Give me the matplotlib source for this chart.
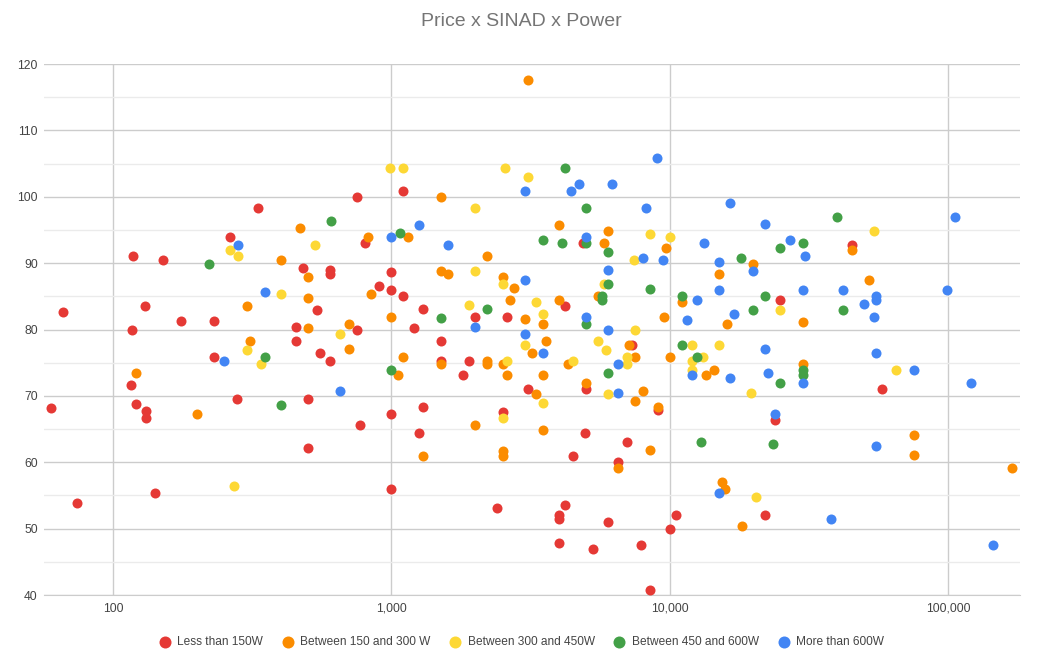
import matplotlib
matplotlib.use("Agg")
import matplotlib.pyplot as plt
from matplotlib.ticker import FixedLocator, FuncFormatter, NullLocator, MultipleLocator

plt.rcParams['font.family'] = ['Liberation Sans', 'DejaVu Sans']

title = "Price x SINAD x Power"
labels = ["Less than 150W", "Between 150 and 300 W", "Between 300 and 450W",
          "Between 450 and 600W", "More than 600W"]
colors = ["#e53935", "#fb8c00", "#fdd835", "#43a047", "#4285f4"]

# price, SINAD
less150_price = [753, 332, 262, 118, 151, 482, 603, 603, 804, 130, 542, 66, 176, 230, 117, 453, 753,
                 453, 230, 553, 603, 116, 121, 131, 131, 60, 279, 502, 774, 502, 141, 74,
                 1101, 4874, 1000, 903, 1000, 1101, 4215, 1302, 2000, 2598, 1202,
                 1503, 1503, 1897, 1807, 3105, 5000, 7321, 9040, 1000, 1302, 2506, 1254, 4959, 6993,
                 4503, 6511, 1000, 2399, 4215, 4000, 4000, 5999, 10537, 10000, 4000, 5309, 7851, 8502,
                 44960, 24880, 57780, 23940, 21970]
less150_sinad = [100.0, 98.3, 93.9, 91.0, 90.4, 89.3, 89.0, 88.3, 93.1, 83.5, 83.0, 82.6, 81.3, 81.3, 80.0, 80.4, 80.0,
                 78.3, 75.8, 76.4, 75.3, 71.6, 68.8, 67.7, 66.7, 68.1, 69.6, 69.6, 65.6, 62.1, 55.3, 53.9,
                 100.9, 93.1, 88.6, 86.5, 86.0, 85.1, 83.6, 83.1, 81.9, 81.9, 80.2,
                 78.3, 75.3, 75.3, 73.1, 71.0, 71.0, 77.6, 67.9, 67.3, 68.3, 67.5, 64.4, 64.4, 63.1,
                 60.9, 60.0, 55.9, 53.1, 53.5, 52.0, 51.5, 51.0, 52.0, 49.9, 47.9, 46.9, 47.5, 40.7,
                 92.7, 84.4, 71.0, 66.3, 52.0]

w150_300_price = [468, 402, 502, 826, 842, 302, 502, 502, 703,
                  311, 703, 121, 201,
                  3105, 1503, 4000, 5999, 1151, 5797, 9650, 2202, 1503, 1600, 2506, 2753, 5505, 11010,
                  2655, 4000, 3006, 3497, 9487, 1000,
                  1101, 1503, 2202, 2202, 2506, 2598, 1054, 3202, 3603, 3497, 4298, 5000, 3309, 7157,
                  7516, 8024, 7516, 9040, 9975, 2000, 3497, 1302, 8502, 2506, 2506, 6511,
                  44960, 19950, 14990, 51920, 16010, 29980, 13460, 14460, 29980, 75090, 75090, 169700,
                  15450, 15800, 18180]
w150_300_sinad = [95.3, 90.4, 87.9, 93.9, 85.4, 83.5, 84.7, 80.3, 80.9,
                  78.3, 77.0, 73.4, 67.3,
                  117.6, 100.0, 95.8, 94.8, 93.9, 93.1, 92.3, 91.0, 88.8, 88.3, 87.9, 86.3, 85.1, 84.1,
                  84.4, 84.4, 81.6, 80.9, 81.9, 81.9,
                  75.8, 74.8, 75.3, 74.8, 74.8, 73.1, 73.1, 76.4, 78.3, 73.1, 74.8, 72.0, 70.3, 77.6,
                  75.8, 70.7, 69.3, 68.4, 75.8, 65.6, 64.8, 60.9, 61.8, 61.7, 60.9, 59.1,
                  92.0, 89.8, 88.3, 87.4, 80.9, 81.1, 73.1, 73.9, 74.8, 64.1, 61.1, 59.1,
                  57.0, 55.9, 50.4]

w300_450_price = [533, 262, 282, 402, 655,
                  302, 341, 271,
                  984, 1101, 2553, 3105, 2000, 8502, 10000, 7412, 2000, 2506, 5797, 3309, 1904, 3497, 7516,
                  2598, 3006, 4503, 3497, 5505, 5915, 7013, 7013, 5999, 2506, 12025,
                  53950, 24880, 14990, 13170, 11990, 11990, 19530, 64900, 20300]
w300_450_sinad = [92.7, 92.0, 91.0, 85.4, 79.3,
                  76.9, 74.8, 56.4,
                  104.4, 104.4, 104.4, 103.0, 98.3, 94.4, 93.9, 90.4, 88.8, 86.9, 86.9, 84.1, 83.7, 82.4, 80.0,
                  75.3, 77.6, 75.3, 69.0, 78.3, 76.9, 75.8, 74.8, 70.3, 66.7, 77.6,
                  94.8, 83.0, 77.6, 75.8, 75.2, 73.9, 70.4, 73.9, 54.8]

w450_600_price = [605, 221, 352, 402,
                  4205, 5000, 1077, 3497, 4100, 5000, 5999, 5999, 8502, 11010, 5702, 5702, 2202, 1503, 5000,
                  1000, 5999, 11010, 12900,
                  39970, 29980, 24930, 17980, 21970, 19950, 41880, 12465, 24930, 29980, 29980, 23480]
w450_600_sinad = [96.4, 89.8, 75.8, 68.6,
                  104.4, 98.3, 94.5, 93.5, 93.1, 93.1, 91.7, 86.9, 86.1, 85.1, 85.0, 84.4, 83.1, 81.7, 80.9,
                  73.9, 73.4, 77.6, 63.1,
                  97.0, 93.1, 92.3, 90.7, 85.1, 83.0, 83.0, 75.8, 72.0, 73.9, 73.1, 62.7]

more600_price = [282, 352, 251, 655,
                 9008, 3006, 4405, 4706, 6210, 8204, 1254, 1000, 1600, 5000, 8024, 9413, 5999, 3006, 12497,
                 5000, 11535, 2000, 5999, 3006,
                 3497, 6511, 6511,
                 16460, 105950, 21970, 13270, 26960, 14990, 19950, 30510, 14990, 29980, 41880, 98900,
                 54950, 54950, 49950, 16970, 53950, 21970, 54950, 11990, 16460, 22470, 29980, 75090,
                 120300, 23940, 54950, 14990, 38020, 144500]
more600_sinad = [92.7, 85.7, 75.3, 70.7,
                 105.9, 100.9, 100.9, 101.9, 101.9, 98.3, 95.8, 93.9, 92.7, 93.9, 90.7, 90.4, 89.0, 87.5, 84.4,
                 81.9, 81.4, 80.4, 80.0, 79.3,
                 76.4, 74.8, 70.4,
                 99.1, 97.0, 95.9, 93.1, 93.5, 90.1, 88.8, 91.0, 85.9, 85.9, 85.9, 85.9,
                 85.1, 84.4, 83.9, 82.4, 81.9, 77.0, 76.4, 73.1, 72.7, 73.4, 72.0, 73.9,
                 72.0, 67.3, 62.4, 55.4, 51.4, 47.5]

series = [(less150_price, less150_sinad), (w150_300_price, w150_300_sinad),
          (w300_450_price, w300_450_sinad), (w450_600_price, w450_600_sinad),
          (more600_price, more600_sinad)]

x_ticks = [100, 1000, 10000, 100000]
y_ticks = [40, 50, 60, 70, 80, 90, 100, 110, 120]

fig = plt.figure(figsize=(10.43, 6.62), dpi=100)
ax = fig.add_axes([0.0422, 0.1012, 0.9358, 0.8021])

for i, ((px, sy), lab, col) in enumerate(zip(series, labels, colors)):
    ax.scatter(px, sy, s=52, color=col, label=lab, linewidths=0, zorder=3 + i)

ax.set_xscale('log')
ax.set_xlim(56.5, 181000)
ax.set_ylim(40, 120)

ax.xaxis.set_major_locator(FixedLocator(x_ticks))
ax.xaxis.set_minor_locator(NullLocator())
ax.xaxis.set_major_formatter(FuncFormatter(lambda v, p: f"{int(round(v)):,}"))
ax.yaxis.set_major_locator(FixedLocator(y_ticks))
ax.yaxis.set_minor_locator(MultipleLocator(5))

ax.grid(True, which='major', axis='both', color='#cccccc', linewidth=1, zorder=0)
ax.grid(True, which='minor', axis='y', color='#ebebeb', linewidth=1, zorder=0)
ax.set_axisbelow(True)
for s in ['top', 'right', 'left']:
    ax.spines[s].set_visible(False)
ax.spines['bottom'].set_color('#cccccc')

ax.tick_params(axis='both', which='both', length=0, labelsize=8.7, colors='#444444')
ax.tick_params(axis='y', pad=4.5)
ax.tick_params(axis='x', pad=5.5)

fig.text(0.5, 1 - 22 / 662, title, ha='center', va='center', fontsize=14, color='#757575')

leg = fig.legend(loc='center', bbox_to_anchor=(0.5, 1 - 642 / 662), ncol=5, frameon=False,
                 fontsize=8.6, handletextpad=0.55, columnspacing=1.55, markerscale=1.2,
                 handlelength=1.0)
for t in leg.get_texts():
    t.set_color('#444444')

fig.savefig("out.png", dpi=100)
